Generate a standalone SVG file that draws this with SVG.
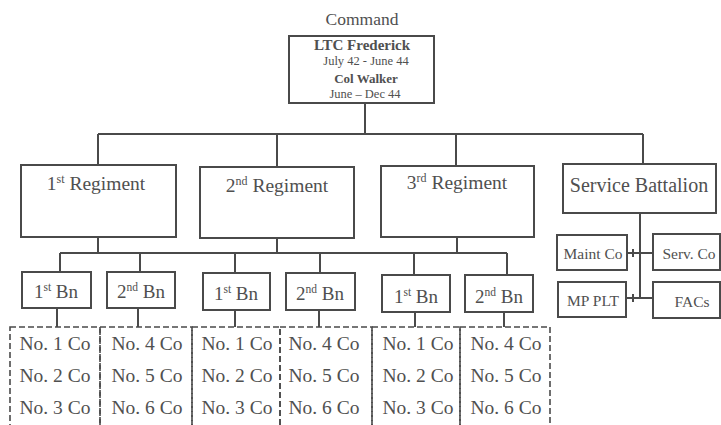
<svg xmlns="http://www.w3.org/2000/svg" width="721" height="425" viewBox="0 0 721 425">
<style>
.box{fill:#fff;stroke:#4a4a4a;stroke-width:2}
.dash{fill:none;stroke:#4a4a4a;stroke-width:1.6;stroke-dasharray:6,3}
.ln{fill:none;stroke:#4a4a4a;stroke-width:2}
text{font-family:"Liberation Serif","Times New Roman",serif;fill:#505050}
.reg{font-size:19.5px;text-anchor:middle}
.bn{font-size:19px;text-anchor:middle}
.co{font-size:19.5px;text-anchor:middle}
.sm{font-size:15.5px;text-anchor:middle}
.b{font-weight:bold}
</style>
<rect width="721" height="425" fill="#fff"/>
<g id="connectors">
<path class="ln" d="M365,103V134M98,134H643M98,134V165M277,134V167M456,134V166M643,134V164"/>
<path class="ln" d="M98,237V253M277,238V253M457,237V253M60,253H507M60,253V272M140,253V272M235,253V273M320,253V273M414,253V275M507,253V275"/>
<path class="ln" d="M57,308V327M138,308V327M235,310V327M319,310V327M415,312V327M504,312V327"/>
<path class="ln" d="M640,213V298M627,253H653M627,298H653M633,249V257M633,294V302"/>
</g>
<g id="command">
<text x="362" y="25" style="font-size:17.5px;text-anchor:middle">Command</text>
<rect class="box" x="289" y="36" width="145" height="67"/>
<text x="362" y="50" class="b" style="font-size:15px;text-anchor:middle">LTC Frederick</text>
<text x="366" y="65" style="font-size:12.5px;text-anchor:middle">July  42 - June 44</text>
<text x="366" y="83" class="b" style="font-size:13px;text-anchor:middle">Col Walker</text>
<text x="365" y="98" style="font-size:12.5px;text-anchor:middle">June  – Dec 44</text>
</g>
<g id="reg1">
<rect class="box" x="21" y="165" width="155" height="72"/>
<text x="96" y="190" class="reg">1<tspan font-size="12" dy="-7">st</tspan><tspan dy="7"> Regiment</tspan></text>
</g>
<g id="reg2">
<rect class="box" x="200" y="167" width="154" height="71"/>
<text x="277" y="192" class="reg">2<tspan font-size="12" dy="-7">nd</tspan><tspan dy="7"> Regiment</tspan></text>
</g>
<g id="reg3">
<rect class="box" x="381" y="166" width="153" height="71"/>
<text x="457" y="189" class="reg">3<tspan font-size="12" dy="-7">rd</tspan><tspan dy="7"> Regiment</tspan></text>
</g>
<g id="servbn">
<rect class="box" x="563" y="164" width="153" height="49"/>
<text x="639" y="192" style="font-size:20px;text-anchor:middle">Service Battalion</text>
</g>
<g id="maint">
<rect class="box" x="557" y="235" width="70" height="35"/>
<text x="593" y="259" class="sm">Maint Co</text>
</g>
<g id="serv">
<rect class="box" x="653" y="234" width="67" height="36"/>
<text x="689" y="259" class="sm">Serv. Co</text>
</g>
<g id="mp">
<rect class="box" x="558" y="282" width="68" height="35"/>
<text x="593" y="306" class="sm">MP PLT</text>
</g>
<g id="facs">
<rect class="box" x="653" y="282" width="67" height="36"/>
<text x="692" y="307" class="sm">FACs</text>
</g>
<g id="r1bn1"><rect class="box" x="22" y="272" width="69" height="36"/><text x="56" y="298" class="bn">1<tspan font-size="11.5" dy="-7">st</tspan><tspan dy="7"> Bn</tspan></text></g>
<g id="r1bn2"><rect class="box" x="107" y="272" width="68" height="36"/><text x="141" y="298" class="bn">2<tspan font-size="11.5" dy="-7">nd</tspan><tspan dy="7"> Bn</tspan></text></g>
<g id="r2bn1"><rect class="box" x="203" y="273" width="67" height="37"/><text x="236" y="300" class="bn">1<tspan font-size="11.5" dy="-7">st</tspan><tspan dy="7"> Bn</tspan></text></g>
<g id="r2bn2"><rect class="box" x="286" y="273" width="69" height="37"/><text x="320" y="300" class="bn">2<tspan font-size="11.5" dy="-7">nd</tspan><tspan dy="7"> Bn</tspan></text></g>
<g id="r3bn1"><rect class="box" x="382" y="275" width="68" height="37"/><text x="416" y="303" class="bn">1<tspan font-size="11.5" dy="-7">st</tspan><tspan dy="7"> Bn</tspan></text></g>
<g id="r3bn2"><rect class="box" x="465" y="275" width="68" height="37"/><text x="499" y="303" class="bn">2<tspan font-size="11.5" dy="-7">nd</tspan><tspan dy="7"> Bn</tspan></text></g>
<g id="co1"><rect class="dash" x="10" y="327" width="90" height="110"/><text x="55" y="350" class="co">No. 1 Co</text><text x="55" y="382" class="co">No. 2 Co</text><text x="55" y="414" class="co">No. 3 Co</text></g>
<g id="co2"><rect class="dash" x="100" y="327" width="92" height="110"/><text x="147" y="350" class="co">No. 4 Co</text><text x="147" y="382" class="co">No. 5 Co</text><text x="147" y="414" class="co">No. 6 Co</text></g>
<g id="co3"><rect class="dash" x="192" y="327" width="88" height="110"/><text x="237" y="350" class="co">No. 1 Co</text><text x="237" y="382" class="co">No. 2 Co</text><text x="237" y="414" class="co">No. 3 Co</text></g>
<g id="co4"><rect class="dash" x="280" y="327" width="92" height="110"/><text x="324" y="350" class="co">No. 4 Co</text><text x="324" y="382" class="co">No. 5 Co</text><text x="324" y="414" class="co">No. 6 Co</text></g>
<g id="co5"><rect class="dash" x="372" y="327" width="88" height="110"/><text x="418" y="350" class="co">No. 1 Co</text><text x="418" y="382" class="co">No. 2 Co</text><text x="418" y="414" class="co">No. 3 Co</text></g>
<g id="co6"><rect class="dash" x="460" y="327" width="90" height="110"/><text x="506" y="350" class="co">No. 4 Co</text><text x="506" y="382" class="co">No. 5 Co</text><text x="506" y="414" class="co">No. 6 Co</text></g>
</svg>
